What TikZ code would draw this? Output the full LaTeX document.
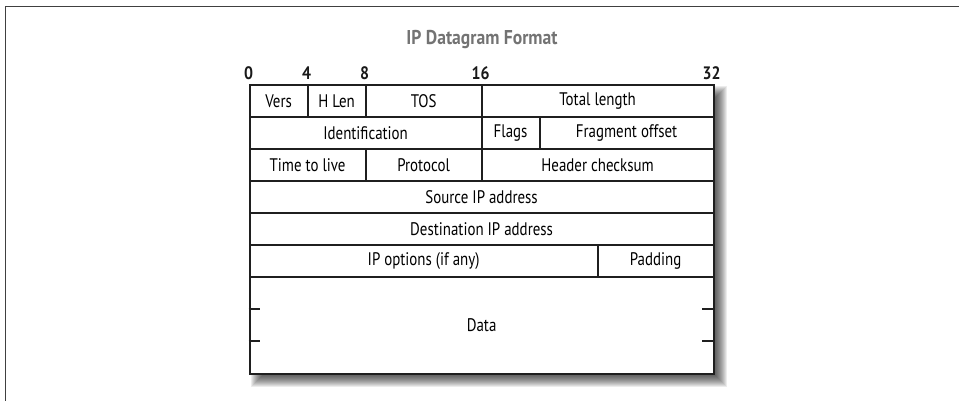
\documentclass[tikz,border=0pt]{standalone}
\usepackage{fontspec}
\setmainfont{PT Sans}[FakeStretch=0.82]
\newfontfamily\headfont{PT Sans}[FakeStretch=0.88]
\begin{document}
\begin{tikzpicture}[x=1pt,y=-1pt,
  cellbox/.style={draw=black!88, line width=1.8pt, fill=white, rectangle, anchor=north west,
     minimum height=32pt, inner sep=0pt, font=\fontsize{18.2}{20}\selectfont, text=black},
  bitnum/.style={font=\headfont\bfseries\fontsize{18}{20}\selectfont, text=black!90, inner sep=0pt},
  ticks/.style={line width=1.8pt, draw=black!88}]
\useasboundingbox (0,0) rectangle (959,401);
% outer frame
\draw[line width=1.8pt, black!75] (5.5,401) -- (5.5,6.5) -- (959,6.5);
% title
\node[font=\headfont\bfseries\fontsize{20}{22}\selectfont, text=black!55] (title) at (482,40) {IP Datagram Format};
% bit numbers
\node[bitnum] (b0) at (248.7,73) {0};
\node[bitnum] (b4) at (306.7,73) {4};
\node[bitnum] (b8) at (364.7,73) {8};
\node[bitnum] (b16) at (480.7,73) {16};
\node[bitnum] (b32) at (711.5,73) {32};
% shadow
\foreach \i in {-6,...,6} {
  \fill[black, opacity=0.075] (256.7-\i,92-\i) rectangle (720.7+\i,380.7+\i);
}
% row 1
\node[cellbox, minimum width=58pt] (vers) at (248.7,84) {Vers};
\node[cellbox, minimum width=58pt] (hlen) at (306.7,84) {H Len};
\node[cellbox, minimum width=116pt] (tos) at (364.7,84) {TOS};
\node[cellbox, minimum width=232pt] (tlen) at (480.7,84) {Total length};
% row 2
\node[cellbox, minimum width=232pt] (ident) at (248.7,116) {Identification};
\node[cellbox, minimum width=58pt] (flags) at (480.7,116) {Flags};
\node[cellbox, minimum width=174pt] (frag) at (538.7,116) {Fragment offset};
% row 3
\node[cellbox, minimum width=116pt] (ttl) at (248.7,148) {Time to live};
\node[cellbox, minimum width=116pt] (proto) at (364.7,148) {Protocol};
\node[cellbox, minimum width=232pt] (hcs) at (480.7,148) {Header checksum};
% row 4-5
\node[cellbox, minimum width=464pt] (src) at (248.7,180) {Source IP address};
\node[cellbox, minimum width=464pt] (dst) at (248.7,212) {Destination IP address};
% row 6
\node[cellbox, minimum width=348pt] (opts) at (248.7,244) {IP options (if any)};
\node[cellbox, minimum width=116pt] (pad) at (596.7,244) {Padding};
% data
\node[cellbox, minimum width=464pt, minimum height=96.7pt] (data) at (248.7,276) {Data};
% ticks on data
\coordinate (tl1) at (260,309);
\coordinate (tl2) at (260,341);
\coordinate (tr1) at (701.5,309);
\coordinate (tr2) at (701.5,341);
\draw[ticks] (data.west |- tl1) -- (tl1);
\draw[ticks] (data.west |- tl2) -- (tl2);
\draw[ticks] (data.east |- tr1) -- (tr1);
\draw[ticks] (data.east |- tr2) -- (tr2);
\end{tikzpicture}
\end{document}
